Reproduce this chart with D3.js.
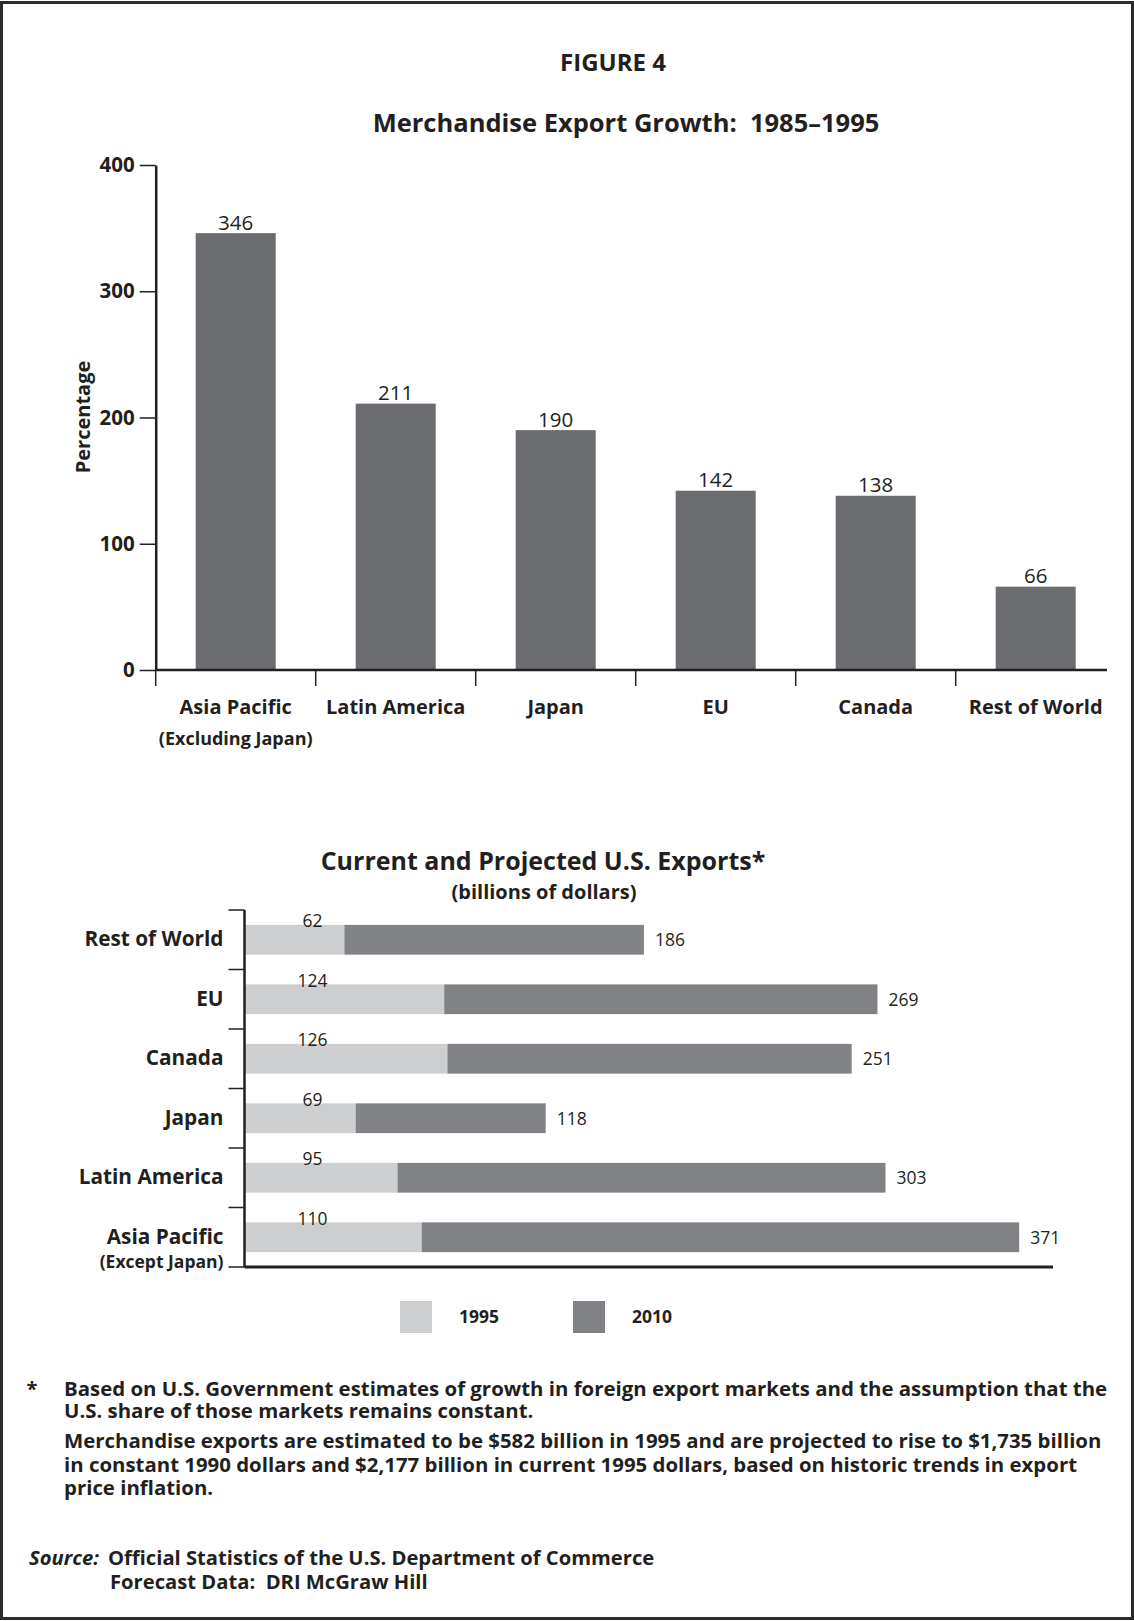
<!DOCTYPE html>
<html>
<head>
<meta charset="utf-8">
<script src="https://cdn.jsdelivr.net/npm/d3@7"></script>
<style>
  html, body { margin: 0; padding: 0; background: #fff; }
  svg { display: block; }
  text { font-family: "Open Sans", "Noto Sans", sans-serif; fill: #231f20; }
</style>
</head>
<body>
<svg id="chart" width="1134" height="1621"></svg>
<script>
// ---------- DATA ----------
const growthCategories = ["Asia Pacific", "Latin America", "Japan", "EU", "Canada", "Rest of World"];
const growthSubLabels = ["(Excluding Japan)", "", "", "", "", ""];
const growthValues = [346, 211, 190, 142, 138, 66];
const growthTicks = [0, 100, 200, 300, 400];

const exportCategories = ["Rest of World", "EU", "Canada", "Japan", "Latin America", "Asia Pacific"];
const exportSubLabels = ["", "", "", "", "", "(Except Japan)"];
const exports1995 = [62, 124, 126, 69, 95, 110];
const exports2010 = [186, 269, 251, 118, 303, 371];
const legendLabels = ["1995", "2010"];

const footnoteLines = [
  "Based on U.S. Government estimates of growth in foreign export markets and the assumption that the",
  "U.S. share of those markets remains constant.",
  "Merchandise exports are estimated to be $582 billion in 1995 and are projected to rise to $1,735 billion",
  "in constant 1990 dollars and $2,177 billion in current 1995 dollars, based on historic trends in export",
  "price inflation."
];
const sourceLines = ["Official Statistics of the U.S. Department of Commerce", "Forecast Data:  DRI McGraw Hill"];

// ---------- STYLE ----------
const INK = "#231f20";
const BAR_TOP = "#6b6c70";
const C1995 = "#cdced0";
const C2010 = "#818285";

const svg = d3.select("#chart");

// frame
svg.append("rect").attr("x", 1.5).attr("y", 2.5).attr("width", 1131).attr("height", 1616)
  .attr("fill", "none").attr("stroke", "#2a2a2a").attr("stroke-width", 3);

// titles
svg.append("text").attr("x", 613).attr("y", 71).attr("text-anchor", "middle")
  .attr("font-size", 24).attr("font-weight", 700).text("FIGURE 4");
svg.append("text").attr("x", 626).attr("y", 132).attr("text-anchor", "middle")
  .attr("font-size", 25.5).attr("font-weight", 700).style("white-space", "pre")
  .text("Merchandise Export Growth:  1985\u20131995");

// ---------- TOP CHART ----------
const gx0 = 155.7, gx1 = 1115.7, gy0 = 670, gy1 = 165;
const xTop = d3.scaleBand().domain(growthCategories).range([gx0, gx1]).paddingInner(0.5).paddingOuter(0.25);
const yTop = d3.scaleLinear().domain([0, 400]).range([gy0, gy1]);
const topData = growthCategories.map((c, i) => ({ c, v: growthValues[i], sub: growthSubLabels[i] }));

const topG = svg.append("g");
topG.selectAll("rect.bar").data(topData).join("rect").attr("class", "bar")
  .attr("x", d => xTop(d.c)).attr("width", xTop.bandwidth())
  .attr("y", d => yTop(d.v)).attr("height", d => yTop(0) - yTop(d.v))
  .attr("fill", BAR_TOP);
topG.selectAll("text.val").data(topData).join("text").attr("class", "val")
  .attr("x", d => xTop(d.c) + xTop.bandwidth() / 2).attr("y", d => yTop(d.v) - 3.5)
  .attr("text-anchor", "middle").attr("font-size", 20.5).text(d => d.v);

const yAxis = d3.axisLeft(yTop).tickValues(growthTicks).tickSize(16).tickPadding(5).tickSizeOuter(0);
const gy = topG.append("g").attr("transform", `translate(${gx0},0)`).call(yAxis);
gy.select(".domain").attr("stroke", INK).attr("stroke-width", 2.5);
gy.selectAll(".tick line").attr("stroke", INK).attr("stroke-width", 1.5);
gy.selectAll(".tick text").attr("font-size", 20.5).attr("font-weight", 700).attr("fill", INK)
  .style("font-family", '"Open Sans", sans-serif');

const xAxis = d3.axisBottom(xTop).tickSize(0).tickPadding(30);
const gxA = topG.append("g").attr("transform", `translate(0,${gy0})`).call(xAxis);
gxA.select(".domain").remove();
gxA.selectAll(".tick text").attr("font-size", 20).attr("font-weight", 700).attr("fill", INK)
  .style("font-family", '"Open Sans", sans-serif');
topG.append("line").attr("x1", gx0).attr("x2", 1107).attr("y1", gy0).attr("y2", gy0)
  .attr("stroke", INK).attr("stroke-width", 2.5);
const stepTop = xTop.step();
topG.selectAll("line.bt").data(topData).join("line").attr("class", "bt")
  .attr("x1", d => xTop(d.c) - (stepTop - xTop.bandwidth()) / 2)
  .attr("x2", d => xTop(d.c) - (stepTop - xTop.bandwidth()) / 2)
  .attr("y1", gy0).attr("y2", gy0 + 16).attr("stroke", INK).attr("stroke-width", 1.5);
topG.selectAll("text.sub").data(topData.filter(d => d.sub)).join("text").attr("class", "sub")
  .attr("x", d => xTop(d.c) + xTop.bandwidth() / 2).attr("y", 745)
  .attr("text-anchor", "middle").attr("font-size", 18).attr("font-weight", 700).text(d => d.sub);
topG.append("text").attr("transform", "translate(90,417) rotate(-90)")
  .attr("text-anchor", "middle").attr("font-size", 20).attr("font-weight", 700).text("Percentage");

// ---------- BOTTOM CHART ----------
svg.append("text").attr("x", 543).attr("y", 870).attr("text-anchor", "middle")
  .attr("font-size", 25).attr("font-weight", 700).text("Current and Projected U.S. Exports*");
svg.append("text").attr("x", 544).attr("y", 899).attr("text-anchor", "middle")
  .attr("font-size", 20).attr("font-weight", 700).text("(billions of dollars)");

const bx0 = 244.5, bx1 = 1053, by0 = 910, by1 = 1267;
const xB = d3.scaleLinear().domain([0, 502]).range([bx0, bx1]);
const yB = d3.scaleBand().domain(exportCategories).range([by0, by1]).paddingInner(0.5).paddingOuter(0.25);
const bData = exportCategories.map((c, i) => ({ c, a: exports1995[i], b: exports2010[i], sub: exportSubLabels[i] }));
const botG = svg.append("g");

botG.selectAll("rect.b95").data(bData).join("rect").attr("class", "b95")
  .attr("x", xB(0)).attr("width", d => xB(d.a) - xB(0))
  .attr("y", d => yB(d.c)).attr("height", yB.bandwidth()).attr("fill", C1995);
botG.selectAll("rect.b10").data(bData).join("rect").attr("class", "b10")
  .attr("x", d => xB(d.a)).attr("width", d => xB(d.a + d.b) - xB(d.a))
  .attr("y", d => yB(d.c)).attr("height", yB.bandwidth()).attr("fill", C2010);
botG.selectAll("text.l95").data(bData).join("text").attr("class", "l95")
  .attr("x", xB(0) + 68).attr("y", d => yB(d.c) + 2.5)
  .attr("text-anchor", "middle").attr("font-size", 17.5).text(d => d.a);
botG.selectAll("text.l10").data(bData).join("text").attr("class", "l10")
  .attr("x", d => xB(d.a + d.b) + 11).attr("y", d => yB(d.c) + yB.bandwidth() / 2 + 6.5)
  .attr("font-size", 17.5).text(d => d.b);

botG.append("line").attr("x1", bx0).attr("x2", bx0).attr("y1", by0).attr("y2", by1)
  .attr("stroke", INK).attr("stroke-width", 2.5);
const stepB = yB.step();
const boundaries = exportCategories.map(c => yB(c) - (stepB - yB.bandwidth()) / 2).concat([by1]);
botG.selectAll("line.bt").data(boundaries).join("line").attr("class", "bt")
  .attr("x1", bx0 - 16).attr("x2", bx0).attr("y1", d => d).attr("y2", d => d)
  .attr("stroke", INK).attr("stroke-width", 1.5);
botG.append("line").attr("x1", bx0).attr("x2", bx1).attr("y1", by1).attr("y2", by1)
  .attr("stroke", INK).attr("stroke-width", 3);
const yAxisB = d3.axisLeft(yB).tickSize(0).tickPadding(21);
const gyB = botG.append("g").attr("transform", `translate(${bx0},0)`).call(yAxisB);
gyB.select(".domain").remove();
gyB.selectAll(".tick text").attr("font-size", 20.8).attr("font-weight", 700).attr("fill", INK)
  .style("font-family", '"Open Sans", sans-serif');
botG.selectAll("text.sub").data(bData.filter(d => d.sub)).join("text").attr("class", "sub")
  .attr("x", bx0 - 21).attr("y", d => yB(d.c) + yB.bandwidth() / 2 + 31)
  .attr("text-anchor", "end").attr("font-size", 17.5).attr("font-weight", 700).text(d => d.sub);

// legend
const legendColor = d3.scaleOrdinal().domain(legendLabels).range([C1995, C2010]);
const legendX = d3.scalePoint().domain(legendLabels).range([400, 573]);
const lg = svg.append("g").selectAll("g").data(legendLabels).join("g")
  .attr("transform", d => `translate(${legendX(d)},1301)`);
lg.append("rect").attr("width", 32).attr("height", 32).attr("fill", d => legendColor(d));
lg.append("text").attr("x", 59).attr("y", 22).attr("font-size", 17.5).attr("font-weight", 700).text(d => d);

// footnotes
const fn = svg.append("g");
fn.append("text").attr("x", 32).attr("y", 1396).attr("text-anchor", "middle")
  .attr("font-size", 20).attr("font-weight", 700).text("*");
const fnY = [1396, 1418, 1448, 1472, 1495];
fn.selectAll("text.fl").data(footnoteLines).join("text").attr("class", "fl")
  .attr("x", 64).attr("y", (d, i) => fnY[i]).attr("font-size", 20.4).attr("font-weight", 700).text(d => d);

const src = svg.append("text").attr("x", 29).attr("y", 1565).attr("font-size", 20.2).attr("font-weight", 700);
src.append("tspan").attr("font-style", "italic").text("Source:");
src.append("tspan").attr("x", 108).text(sourceLines[0]);
svg.append("text").attr("x", 110).attr("y", 1589).attr("font-size", 20.2).attr("font-weight", 700)
  .style("white-space", "pre").text(sourceLines[1]);
</script>
</body>
</html>
